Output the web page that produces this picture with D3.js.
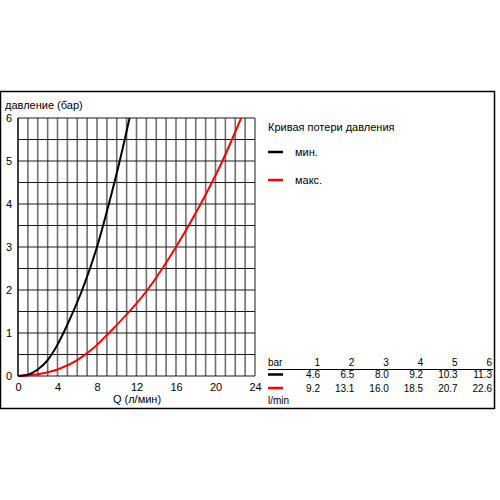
<!DOCTYPE html>
<html>
<head>
<meta charset="utf-8">
<script src="https://cdn.jsdelivr.net/npm/d3@7"></script>
<style>
	body { margin: 0; background: #fff; }
	svg { display: block; font-family: "Liberation Sans", Arial, sans-serif; }
</style>
</head>
<body>
<svg id="chart" width="500" height="500"></svg>
<script>
// Curve points (Q in l/min, p in bar)
var minFlow = [0, 1, 2, 3, 4, 4.6, 5.5, 6.5, 8.0, 9.2, 10.3, 11.3];
var minPress = [0, 0.03, 0.15, 0.37, 0.73, 1, 1.45, 2, 3, 4, 5, 6];
var maxFlow = [0, 2, 4, 6, 7.5, 9.2, 13.1, 16.0, 18.5, 20.7, 22.6];
var maxPress = [0, 0.04, 0.15, 0.37, 0.62, 1, 2, 3, 4, 5, 6];

// Table under the legend
var tableBar = [1, 2, 3, 4, 5, 6];
var tableMin = ["4.6", "6.5", "8.0", "9.2", "10.3", "11.3"];
var tableMax = ["9.2", "13.1", "16.0", "18.5", "20.7", "22.6"];

var xTicks = [0, 4, 8, 12, 16, 20, 24];
var yTicks = [0, 1, 2, 3, 4, 5, 6];

var svg = d3.select('#chart');

// Outer frame
svg.append("rect")
	.attr("x", 0.5).attr("y", 91.5)
	.attr("width", 494).attr("height", 317)
	.attr("fill", "none").attr("stroke", "#000").attr("stroke-width", 1.5);

var x = d3.scaleLinear().domain([0, 24]).range([18, 255]);
var y = d3.scaleLinear().domain([0, 6]).range([376, 118]);

// Vertical grid, every 1 l/min
svg.append("g")
	.selectAll("line")
	.data(d3.range(0, 25, 1))
	.enter().append("line")
	.attr("x1", function(d) { return x(d); })
	.attr("x2", function(d) { return x(d); })
	.attr("y1", y(0)).attr("y2", y(6))
	.attr("stroke", function(d) { return (d == 0) ? "#000" : "#707070"; })
	.attr("stroke-width", function(d) { return (d == 0) ? 1.5 : 1.6; });

// Horizontal grid, every 0.5 bar
svg.append("g")
	.selectAll("line")
	.data(d3.range(0, 6.01, 0.5))
	.enter().append("line")
	.attr("x1", x(0)).attr("x2", x(24))
	.attr("y1", function(d) { return y(d); })
	.attr("y2", function(d) { return y(d); })
	.attr("stroke", "#1a1a1a")
	.attr("stroke-width", 1.2);

// Axes labels
var xAxis = svg.append("g")
	.attr("transform", "translate(0," + y(0) + ")")
	.call(d3.axisBottom(x).tickValues(xTicks).tickFormat(d3.format("d")).tickSize(0).tickPadding(7));
var yAxis = svg.append("g")
	.attr("transform", "translate(" + x(0) + ",0)")
	.call(d3.axisLeft(y).tickValues(yTicks).tickFormat(d3.format("d")).tickSize(0).tickPadding(6));
[xAxis, yAxis].forEach(function(a) {
	a.select(".domain").remove();
	a.selectAll("text").attr("font-size", 11).attr("fill", "#000")
		.attr("font-family", "Liberation Sans, Arial, sans-serif");
});

svg.append("text")
	.attr("x", 5).attr("y", 109)
	.attr("font-size", 11)
	.text("давление (бар)");
svg.append("text")
	.attr("x", 137).attr("y", 403)
	.attr("text-anchor", "middle")
	.attr("font-size", 11)
	.text("Q (л/мин)");

// Curves
var line = d3.line()
	.x(function(d) { return x(d[0]); })
	.y(function(d) { return y(d[1]); })
	.curve(d3.curveMonotoneX);

svg.append("path")
	.datum(d3.zip(maxFlow, maxPress))
	.attr("d", line)
	.attr("fill", "none").attr("stroke", "#ff0000").attr("stroke-width", 2);
svg.append("path")
	.datum(d3.zip(minFlow, minPress))
	.attr("d", line)
	.attr("fill", "none").attr("stroke", "#000").attr("stroke-width", 2);

// Legend
svg.append("text")
	.attr("x", 268).attr("y", 131)
	.attr("font-size", 11)
	.text("Кривая потери давления");
var legend = [["мин.", "#000", 152], ["макс.", "#ff0000", 180]];
legend.forEach(function(l) {
	svg.append("line")
		.attr("x1", 268).attr("x2", 283)
		.attr("y1", l[2]).attr("y2", l[2])
		.attr("stroke", l[1]).attr("stroke-width", 2.5);
	svg.append("text")
		.attr("x", 295).attr("y", l[2] + 4)
		.attr("font-size", 11)
		.text(l[0]);
});

// Table
var colX = d3.scaleLinear().domain([1, 6]).range([320, 492]);
var tbl = svg.append("g").attr("font-size", 10);
tbl.append("text").attr("x", 268).attr("y", 366).text("bar");
tbl.append("line")
	.attr("x1", 268).attr("x2", 493)
	.attr("y1", 369.5).attr("y2", 369.5)
	.attr("stroke", "#000").attr("stroke-width", 1);

function row(values, yy) {
	tbl.selectAll(null)
		.data(values)
		.enter().append("text")
		.attr("x", function(d, i) { return colX(tableBar[i]); })
		.attr("y", yy)
		.attr("text-anchor", "end")
		.text(function(d) { return d; });
}
row(tableBar, 366);
row(tableMin, 378);
row(tableMax, 392);

tbl.append("line").attr("x1", 268).attr("x2", 283)
	.attr("y1", 374.5).attr("y2", 374.5).attr("stroke", "#000").attr("stroke-width", 2.5);
tbl.append("line").attr("x1", 268).attr("x2", 283)
	.attr("y1", 388).attr("y2", 388).attr("stroke", "#ff0000").attr("stroke-width", 2.5);
tbl.append("text").attr("x", 268).attr("y", 404).text("l/min");
</script>
</body>
</html>
